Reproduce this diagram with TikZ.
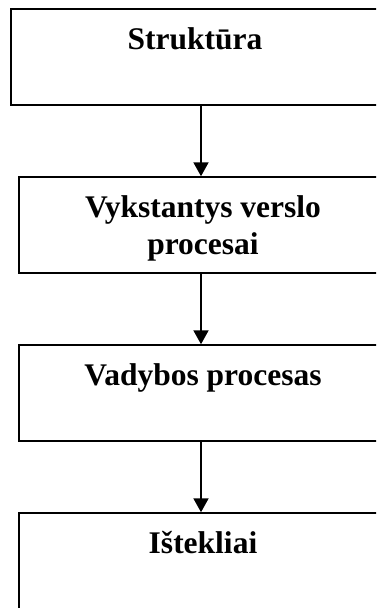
\documentclass[tikz,border=0pt]{standalone}
\usepackage{fontspec}
\setmainfont{Liberation Serif}
\usepackage{xcolor}
\usetikzlibrary{arrows.meta,positioning}

\begin{document}
\begin{tikzpicture}[
  bloc/.style={rectangle,draw=black,fill=none,line width=1.5pt,
               minimum width=368pt, minimum height=96pt, inner sep=0pt},
  tag/.style={font=\fontsize{31.5}{37}\selectfont\bfseries,
              inner sep=0pt, align=center, anchor=base},
  arr/.style={line width=2pt,-{Triangle[length=14pt,width=15pt]}},
]
  \useasboundingbox (0,0) rectangle (376pt,-608pt);
  \fill[white] (0,0) rectangle (376pt,-608pt);
  \clip (0,0) rectangle (376pt,-608pt);

  %% Blocs
  \node[bloc] (Str) at (195pt,-57pt) {};
  \node[bloc] (Vyk) at (203pt,-225pt) {};
  \node[bloc] (Vad) at (203pt,-393pt) {};
  \node[bloc] (Ist) at (203pt,-561pt) {};

  %% Texts (base = last line)
  \node[tag] (TStr) at ([yshift=-41.5pt]Str.north) {Struktūra};
  \node[tag] (TVyk) at ([yshift=-78pt]Vyk.north) {Vykstantys verslo\\procesai};
  \node[tag] (TVad) at ([yshift=-41.5pt]Vad.north) {Vadybos procesas};
  \node[tag] (TIst) at ([yshift=-41.5pt]Ist.north) {Ištekliai};

  %% Arrows
  \coordinate (ax) at (201pt,0);
  \draw[arr] (Str.south -| ax) -- (Vyk.north -| ax);
  \draw[arr] (Vyk.south -| ax) -- (Vad.north -| ax);
  \draw[arr] (Vad.south -| ax) -- (Ist.north -| ax);
\end{tikzpicture}
\end{document}
